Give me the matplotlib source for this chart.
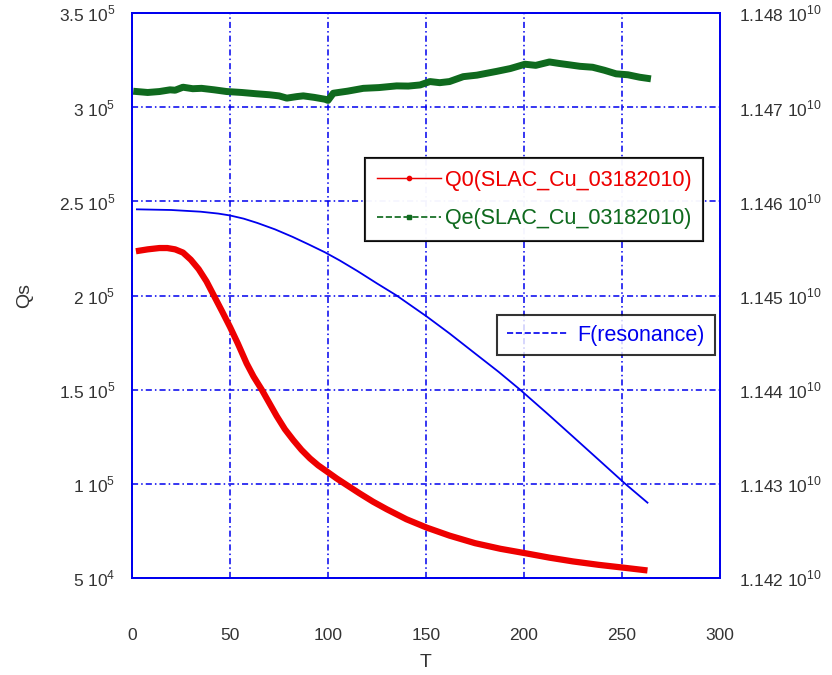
import matplotlib
matplotlib.use("Agg")
import matplotlib.pyplot as plt
from matplotlib.lines import Line2D
from matplotlib.ticker import FixedLocator, FixedFormatter

plt.rcParams['font.family'] = ['Liberation Sans', 'DejaVu Sans']
plt.rcParams['mathtext.fontset'] = 'custom'
plt.rcParams['mathtext.rm'] = 'Liberation Sans'

# ---- data ----
t_q0 = [2, 8, 14, 18, 22, 26, 30, 34, 38, 42, 46, 50, 54, 58.5, 62, 66.2, 70, 73.8, 78, 82.3, 86.5, 90.8, 95,
        99.5, 104.5, 109.5, 116, 123, 130, 140, 150.5, 162, 175, 188, 201.5, 213, 225, 238, 251.5, 263]
q0 = [2.235e5, 2.245e5, 2.252e5, 2.252e5, 2.245e5, 2.228e5, 2.19e5, 2.14e5, 2.075e5, 1.995e5, 1.915e5, 1.833e5,
      1.745e5, 1.639e5, 1.57e5, 1.5e5, 1.43e5, 1.36e5, 1.29e5, 1.232e5, 1.18e5, 1.135e5, 1.098e5,
      1.065e5, 1.028e5, 9.94e4, 9.5e4, 9.05e4, 8.65e4, 8.12e4, 7.67e4, 7.25e4, 6.85e4, 6.55e4, 6.3e4, 6.08e4,
      5.88e4, 5.7e4, 5.54e4, 5.4e4]

t_qe = [2.4, 8, 14, 19.4, 22, 26, 31, 35.5, 42, 48.3, 56, 63.6, 70, 75, 79, 84, 87.4, 93, 98.5, 100, 102.7, 110,
        118, 126, 135, 141, 147, 152, 157, 162, 169, 176, 186, 193, 200.5, 206, 213, 218, 223, 228.5, 235, 241,
        247, 253, 259, 263]
qe = [3.083e5, 3.078e5, 3.083e5, 3.092e5, 3.09e5, 3.106e5, 3.098e5, 3.10e5, 3.092e5, 3.083e5, 3.078e5, 3.071e5,
      3.066e5, 3.06e5, 3.048e5, 3.056e5, 3.06e5, 3.052e5, 3.042e5, 3.036e5, 3.074e5, 3.085e5,
      3.10e5, 3.104e5, 3.113e5, 3.112e5, 3.118e5, 3.136e5, 3.13e5, 3.136e5, 3.162e5, 3.17e5, 3.19e5, 3.205e5,
      3.228e5, 3.222e5, 3.24e5, 3.232e5, 3.225e5, 3.217e5, 3.212e5, 3.196e5, 3.177e5, 3.172e5, 3.159e5, 3.153e5]

t_f = [2.5, 20, 35, 44, 50, 57, 64, 73, 82, 90, 98.5, 106, 115, 125, 135, 150.5, 162, 175, 187, 198, 212, 225,
       238, 251.5, 263]
f_res = [1.145915e10, 1.145908e10, 1.145890e10, 1.145870e10, 1.145850e10, 1.145816e10, 1.145770e10,
         1.145702e10, 1.145622e10, 1.145544e10, 1.145458e10, 1.145372e10, 1.145260e10, 1.145128e10,
         1.145000e10, 1.144775e10, 1.144597e10, 1.144385e10, 1.144190e10, 1.144000e10, 1.143744e10,
         1.143501e10, 1.143257e10, 1.143003e10, 1.142800e10]

x_ticks = [0, 50, 100, 150, 200, 250, 300]
left_ticks = [5e4, 1e5, 1.5e5, 2e5, 2.5e5, 3e5, 3.5e5]
left_labels = ["5 10$^{4}$", "1 10$^{5}$", "1.5 10$^{5}$", "2 10$^{5}$", "2.5 10$^{5}$", "3 10$^{5}$", "3.5 10$^{5}$"]
right_ticks = [1.142e10, 1.143e10, 1.144e10, 1.145e10, 1.146e10, 1.147e10, 1.148e10]
right_labels = ["1.142 10$^{10}$", "1.143 10$^{10}$", "1.144 10$^{10}$", "1.145 10$^{10}$",
                "1.146 10$^{10}$", "1.147 10$^{10}$", "1.148 10$^{10}$"]

BLUE = '#0000ee'
RED = '#ee0000'
GREEN = '#0f6a1e'
TXT = '#333333'

fig = plt.figure(figsize=(8.32, 6.75), dpi=100)
ax = fig.add_axes([132/832, 1 - 578/675, (720-132)/832, (578-13)/675])
ax2 = ax.twinx()

ax.plot(t_q0, q0, color=RED, lw=4.5, solid_capstyle='butt', solid_joinstyle='round', zorder=3)
ax.plot(t_qe, qe, color=GREEN, lw=5, zorder=3)
ax2.plot(t_f, f_res, color=BLUE, lw=1.3, zorder=3)

ax.set_xlim(0, 300)
ax.set_ylim(5e4, 3.5e5)
ax2.set_ylim(1.142e10, 1.148e10)

ax.xaxis.set_major_locator(FixedLocator(x_ticks))
ax.yaxis.set_major_locator(FixedLocator(left_ticks))
ax.yaxis.set_major_formatter(FixedFormatter(left_labels))
ax2.yaxis.set_major_locator(FixedLocator(right_ticks))
ax2.yaxis.set_major_formatter(FixedFormatter(right_labels))

ax.grid(True, color=BLUE, linestyle=(0, (4, 2, 1, 2)), lw=1.1)
ax.set_axisbelow(True)

for a in (ax, ax2):
    for s in a.spines.values():
        s.set_color(BLUE)
        s.set_linewidth(1.3)

ax.tick_params(axis='x', length=0, pad=36, labelsize=12.5, labelcolor=TXT)
ax.tick_params(axis='y', length=0, pad=12, labelsize=12.5, labelcolor=TXT)
ax2.tick_params(axis='y', length=0, pad=14, labelsize=12.5, labelcolor=TXT)

ax.set_xlabel("T", fontsize=14, color=TXT, labelpad=8)
ax.set_ylabel("Qs", fontsize=14, color=TXT, labelpad=18)

h1 = [Line2D([0, 0.5, 1], [0, 0, 0], color=RED, lw=1, marker='o', markersize=3, markevery=[1]),
      Line2D([0, 0.5, 1], [0, 0, 0], color=GREEN, lw=1.2, ls='--', marker='s', markersize=2.5, markevery=[1])]
leg1 = ax.legend(h1, ["Q0(SLAC_Cu_03182010)", "Qe(SLAC_Cu_03182010)"],
                 loc='upper left', bbox_to_anchor=((365-132)/588, 1 - (158-13)/565),
                 frameon=True, fancybox=False, edgecolor='black', fontsize=15.5,
                 handlelength=3.0, handletextpad=0.15, borderpad=0.55, labelspacing=0.8, borderaxespad=0)
leg1.get_frame().set_linewidth(1.5)
for txt, c in zip(leg1.get_texts(), [RED, GREEN]):
    txt.set_color(c)
ax.add_artist(leg1)

h2 = [Line2D([], [], color=BLUE, lw=1.2, ls='--')]
leg2 = ax2.legend(h2, ["F(resonance)"], loc='upper left',
                  bbox_to_anchor=((497-132)/588, 1 - (315-13)/565),
                  frameon=True, fancybox=False, edgecolor='black', fontsize=15.5,
                  handlelength=2.8, handletextpad=0.5, borderpad=0.45, borderaxespad=0)
leg2.get_frame().set_linewidth(1.5)
leg2.get_texts()[0].set_color(BLUE)

fig.savefig("out.png", dpi=100)
